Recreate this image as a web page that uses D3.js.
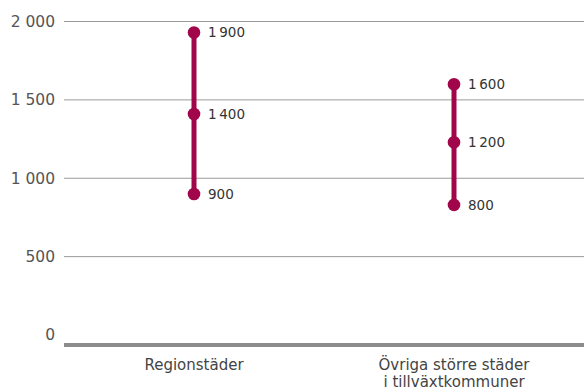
<!DOCTYPE html>
<meta charset="utf-8">
<html>
  <head>
    <style>
      body { margin: 0; background: #fff; }
      text { font-family: "DejaVu Sans", "Noto Sans", sans-serif; }
      .tick-label { font-size: 15.5px; fill: #555; }
      .cat-label { font-size: 15px; fill: #444; }
      .val-label { font-size: 13.5px; fill: #333; }
    </style>
    <script src="https://cdn.jsdelivr.net/npm/d3@7"></script>
  </head>
  <body>
    <div id="chart"></div>
    <script>
      // categories (second one wraps on two lines)
      var categories = ["Regionstäder", "Övriga större städer"];
      var categoryLines = [["Regionstäder"], ["Övriga större städer", "i tillväxtkommuner"]];
      // low / mid / high per category
      var lowValues = [900, 830];
      var midValues = [1410, 1230];
      var highValues = [1930, 1600];
      var yTicks = [0, 500, 1000, 1500, 2000];
      var yTickLabels = ["0", "500", "1 000", "1 500", "2 000"];

      var width = 584, height = 392,
          margin = { top: 21.5, right: 0, bottom: 57, left: 64 },
          color = "#A1064A";

      var svg = d3.select("#chart").append("svg")
          .attr("width", width)
          .attr("height", height);

      var x = d3.scaleBand()
          .domain(categories)
          .range([margin.left, width - margin.right]);

      var y = d3.scaleLinear()
          .domain([0, 2000])
          .range([height - margin.bottom, margin.top]);

      // gridlines (not the zero line, that one is the thick base)
      svg.selectAll(".grid")
          .data(yTicks.filter(function(d) { return d > 0; }))
          .enter().append("line")
          .attr("x1", margin.left).attr("x2", width)
          .attr("y1", function(d) { return y(d); })
          .attr("y2", function(d) { return y(d); })
          .attr("stroke", "#9a9a9a")
          .attr("stroke-width", 1);

      svg.selectAll(".tick-label")
          .data(yTicks)
          .enter().append("text")
          .attr("class", "tick-label")
          .attr("x", 55)
          .attr("y", function(d) { return y(d); })
          .attr("dy", "0.35em")
          .attr("text-anchor", "end")
          .text(function(d, i) { return yTickLabels[i]; });

      // thick base bar, sits a little below zero
      svg.append("rect")
          .attr("x", margin.left)
          .attr("y", y(0) + 8)
          .attr("width", width - margin.left)
          .attr("height", 4)
          .attr("fill", "#8c8c8c");

      var groups = svg.selectAll(".cat")
          .data(categories)
          .enter().append("g")
          .attr("class", "cat")
          .attr("transform", function(d) { return "translate(" + (x(d) + x.bandwidth() / 2) + ",0)"; });

      groups.append("line")
          .attr("x1", 0).attr("x2", 0)
          .attr("y1", function(d, i) { return y(lowValues[i]); })
          .attr("y2", function(d, i) { return y(highValues[i]); })
          .attr("stroke", color)
          .attr("stroke-width", 5);

      var fmt = function(v) {
        var r = Math.round(v / 100) * 100;
        return r >= 1000 ? Math.floor(r / 1000) + "\u2009" + d3.format("03")(r % 1000) : String(r);
      };

      groups.each(function(d, i) {
        var g = d3.select(this);
        [lowValues[i], midValues[i], highValues[i]].forEach(function(v) {
          g.append("circle")
            .attr("cx", 0)
            .attr("cy", y(v))
            .attr("r", 6.3)
            .attr("fill", color);
          g.append("text")
            .attr("class", "val-label")
            .attr("x", 14)
            .attr("y", y(v))
            .attr("dy", "0.35em")
            .text(fmt(v));
        });
      });

      groups.each(function(d, i) {
        var t = d3.select(this).append("text")
            .attr("class", "cat-label")
            .attr("text-anchor", "middle")
            .attr("y", 370);
        categoryLines[i].forEach(function(line, j) {
          t.append("tspan")
            .attr("x", 0)
            .attr("dy", j === 0 ? 0 : 17)
            .text(line);
        });
      });
    </script>
  </body>
</html>
